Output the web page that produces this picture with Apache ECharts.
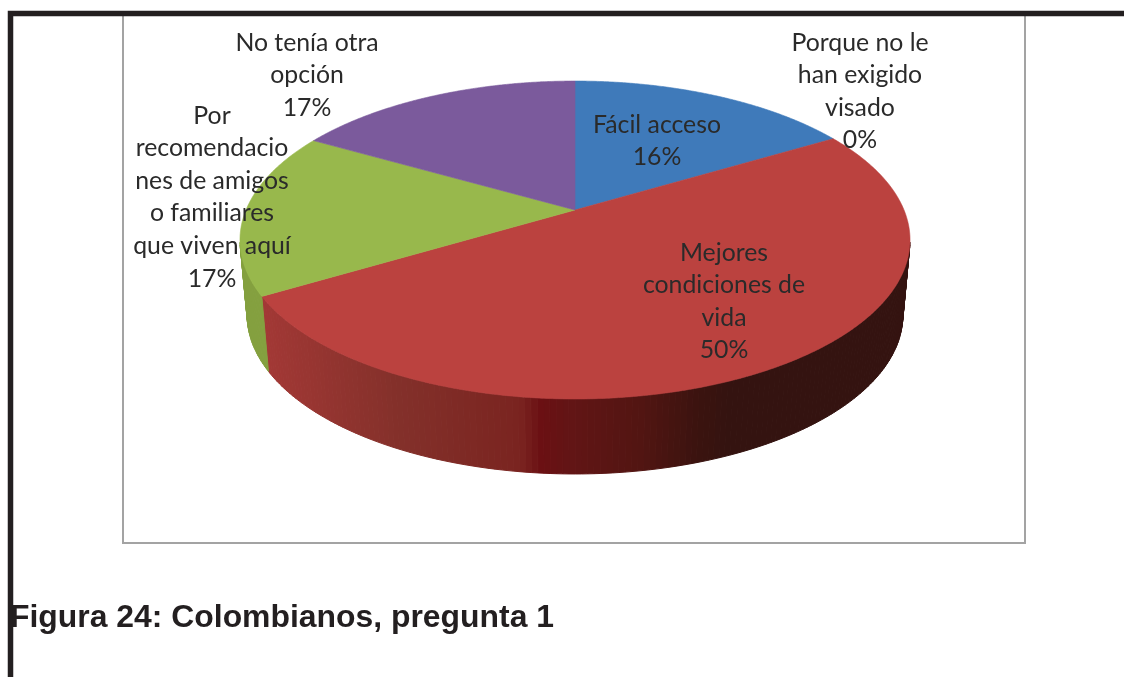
<!DOCTYPE html>
<html>
<head>
<meta charset="utf-8">
<style>html,body{margin:0;padding:0;background:#fff}#c{width:1124px;height:677px}</style>
<script src="https://cdn.jsdelivr.net/npm/echarts@6/dist/echarts.min.js"></script>
</head>
<body>
<div id="c"></div>
<script>
const categories = ['Fácil acceso', 'Mejores condiciones de vida', 'Por recomendaciones de amigos o familiares que viven aquí', 'No tenía otra opción', 'Porque no le han exigido visado'];
const values = [16.49, 50, 16.75, 16.76, 0];
const labelLines = [
  ['Fácil acceso'],
  ['Mejores', 'condiciones de', 'vida'],
  ['Por', 'recomendacio', 'nes de amigos', 'o familiares', 'que viven aquí'],
  ['No tenía otra', 'opción'],
  ['Porque no le', 'han exigido', 'visado']
];
const caption = 'Figura 24: Colombianos, pregunta 1';

const topColors = ['#3f7aba', '#bb423f', '#98b84c', '#7b5a9c', '#3f7aba'];
const labelAnchors = [[657, 124.7], [724, 252.7], [212, 115.7], [307, 42.7], [860, 42.7]];
const LINE = 32.6;
const redWallStops = [[268,[162,56,53]],[400,[131,48,42]],[520,[122,36,32]],[540,[107,16,19]],[570,[98,21,21]],[640,[82,21,18]],[700,[58,19,15]],[730,[52,19,16]]];
const otherWall = ['#2f5a8a', null, '#84a03f', '#5b4275', '#2f5a8a'];
const WALL_START_Y = 244;

const P = -0.1887, B = 153.3, CX = 575;
const FACE = { top: { a: 329, y0: 210 }, bottom: { a: 322, y0: 285 } };
function project(face, pct) {
  const t = pct / 100 * 2 * Math.PI;
  const u = Math.sin(t), v = -Math.cos(t), d = 1 + P * v;
  return [CX + face.a * u / d, face.y0 + B * v / d];
}
const total = values.reduce((s, v) => s + v, 0);
function sliceRange(i) {
  let start = 0;
  for (let k = 0; k < i; k++) start += values[k];
  return [start / total * 100, (start + values[i]) / total * 100];
}
function wallColor(i, x) {
  if (otherWall[i]) return otherWall[i];
  const s = redWallStops;
  if (x <= s[0][0]) return 'rgb(' + s[0][1].join(',') + ')';
  for (let k = 1; k < s.length; k++) {
    if (x <= s[k][0]) {
      const f = (x - s[k-1][0]) / (s[k][0] - s[k-1][0]);
      return 'rgb(' + s[k][1].map((c, j) => Math.round(s[k-1][1][j] + (c - s[k-1][1][j]) * f)).join(',') + ')';
    }
  }
  return 'rgb(' + s[s.length-1][1].join(',') + ')';
}
function renderWall(params) {
  const i = params.dataIndex, r = sliceRange(i), children = [];
  const step = 0.25;
  for (let p = r[0]; p < r[1] - 1e-6; p += step) {
    const q = Math.min(p + step, r[1]);
    const a = project(FACE.top, p), b = project(FACE.top, q), c = project(FACE.bottom, q), d = project(FACE.bottom, p);
    if (a[1] < WALL_START_Y && b[1] < WALL_START_Y) continue;
    const col = wallColor(i, (a[0] + b[0] + c[0] + d[0]) / 4);
    children.push({ type: 'polygon', shape: { points: [a, b, c, d] }, style: { fill: col, stroke: col, lineWidth: 1 } });
  }
  return { type: 'group', children };
}
function renderTop(params) {
  const i = params.dataIndex, r = sliceRange(i), children = [];
  if (r[1] > r[0]) {
    const pts = [[CX, FACE.top.y0]];
    for (let p = r[0]; p < r[1]; p += 0.1) pts.push(project(FACE.top, p));
    pts.push(project(FACE.top, r[1]));
    children.push({ type: 'polygon', shape: { points: pts }, style: { fill: topColors[i], stroke: topColors[i], lineWidth: 0.6 } });
  }
  return { type: 'group', children };
}
function renderLabel(params) {
  const i = params.dataIndex;
  const lines = labelLines[i].concat([Math.round(values[i]) + '%']);
  const [x, y] = labelAnchors[i];
  return { type: 'group', children: lines.map((t, k) => ({
    type: 'text', z2: 100,
    style: { text: t, x, y: y + k * LINE, align: 'center', verticalAlign: 'middle',
             font: '24.8px Lato', fill: '#2a2a2a' }
  })) };
}
const seriesData = categories.map((name, i) => ({ name, value: values[i] }));
const chart = echarts.init(document.getElementById('c'), null, { renderer: 'canvas' });
chart.setOption({
  animation: false,
  backgroundColor: '#ffffff',
  title: { text: caption, left: 10, top: 602, padding: 0,
           textStyle: { fontFamily: 'Liberation Sans', fontWeight: 'bold', fontSize: 31.9, color: '#231f20' } },
  graphic: [
    { type: 'rect', shape: { x: 123, y: 13, width: 902, height: 530 }, style: { fill: 'none', stroke: '#a3a3a3', lineWidth: 2 }, z: 0 },
    { type: 'polyline', shape: { points: [[10.5, 677], [10.5, 13.5], [1124, 13.5]] }, style: { fill: 'none', stroke: '#231f20', lineWidth: 5.5 }, z: 5 }
  ],
  series: [
    { type: 'custom', name: 'pared', coordinateSystem: 'none', silent: true, data: seriesData, renderItem: renderWall, z: 2 },
    { type: 'custom', name: 'cara', coordinateSystem: 'none', silent: true, data: seriesData, renderItem: renderTop, z: 3 },
    { type: 'custom', name: 'etiquetas', coordinateSystem: 'none', silent: true, data: seriesData, renderItem: renderLabel, z: 4 }
  ]
});
</script>
</body>
</html>
